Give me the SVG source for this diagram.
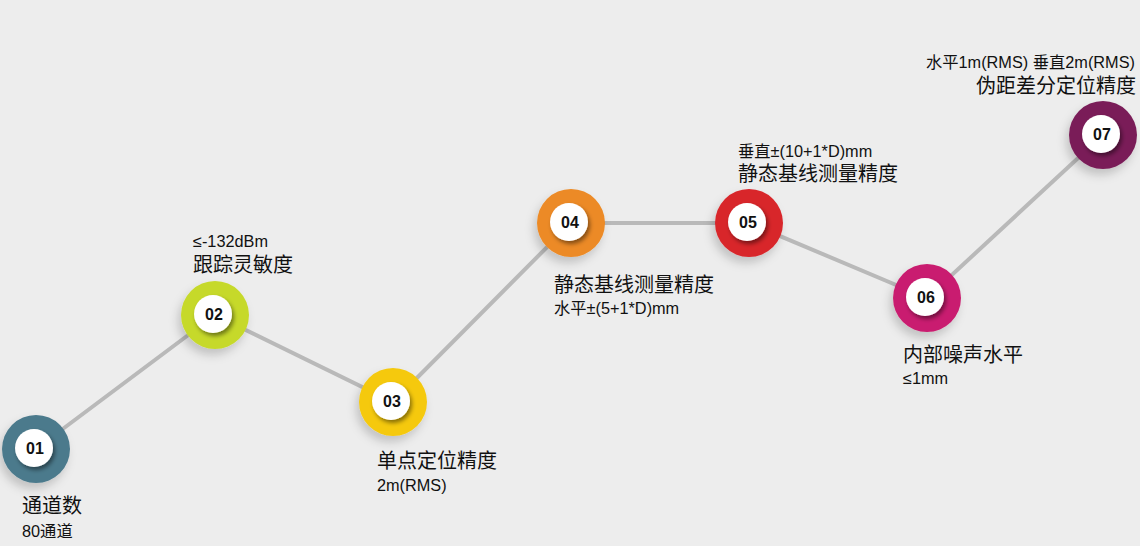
<svg xmlns="http://www.w3.org/2000/svg" width="1140" height="546" viewBox="0 0 1140 546">
<defs>
<style>
.t{font-family:"Liberation Sans","Noto Sans CJK SC",sans-serif;fill:#111}
.h{font-size:20px}
.s{font-size:16.3px}
.n{font-family:"Liberation Sans",sans-serif;font-weight:bold;font-size:16px;fill:#111;text-anchor:middle}
.w{fill:#fff;filter:url(#sh)}
</style>
<filter id="sh" x="-50%" y="-50%" width="200%" height="200%"><feDropShadow dx="2" dy="3" stdDeviation="2" flood-color="#000" flood-opacity="0.45"/></filter>
<filter id="gl" x="-50%" y="-50%" width="200%" height="200%"><feDropShadow dx="-3" dy="6" stdDeviation="5" flood-color="#000" flood-opacity="0.18"/></filter>
</defs>
<rect width="1140" height="546" fill="#ededed"/>
<g id="connectors" stroke="#b9b9b9" stroke-width="4" fill="none">
<polyline points="36,449 215,315 393,402 571,223 749,223 927,298 1103,135"/>
</g>
<g id="n01"><circle cx="36" cy="449" r="34" fill="#4b7a8c" filter="url(#gl)"/><circle class="w" cx="34" cy="448" r="19"/><text class="n" x="35" y="454">01</text></g>
<g id="n02"><circle cx="215" cy="315" r="34" fill="#c6d92c" filter="url(#gl)"/><circle class="w" cx="213" cy="314" r="19"/><text class="n" x="214" y="320">02</text></g>
<g id="n03"><circle cx="393" cy="402" r="34" fill="#f5c90d" filter="url(#gl)"/><circle class="w" cx="391" cy="401" r="19"/><text class="n" x="392" y="407">03</text></g>
<g id="n04"><circle cx="571" cy="223" r="34" fill="#ec8a26" filter="url(#gl)"/><circle class="w" cx="569" cy="222" r="19"/><text class="n" x="570" y="228">04</text></g>
<g id="n05"><circle cx="749" cy="223" r="34" fill="#d8262b" filter="url(#gl)"/><circle class="w" cx="747" cy="222" r="19"/><text class="n" x="748" y="228">05</text></g>
<g id="n06"><circle cx="927" cy="298" r="34" fill="#c91f6f" filter="url(#gl)"/><circle class="w" cx="925" cy="297" r="19"/><text class="n" x="926" y="303">06</text></g>
<g id="n07"><circle cx="1103" cy="135" r="34" fill="#7a1f59" filter="url(#gl)"/><circle class="w" cx="1101" cy="134" r="19"/><text class="n" x="1102" y="140">07</text></g>
<g id="labels">
<text class="t h" x="22" y="513">通道数</text><text class="t s" x="22" y="537">80通道</text>
<text class="t s" x="193" y="247">≤-132dBm</text><text class="t h" x="193" y="272">跟踪灵敏度</text>
<text class="t h" x="377" y="468">单点定位精度</text><text class="t s" x="377" y="491">2m(RMS)</text>
<text class="t h" x="554" y="292">静态基线测量精度</text><text class="t s" x="554" y="314">水平±(5+1*D)mm</text>
<text class="t s" x="738" y="157">垂直±(10+1*D)mm</text><text class="t h" x="738" y="181">静态基线测量精度</text>
<text class="t h" x="903" y="362">内部噪声水平</text><text class="t s" x="903" y="384">≤1mm</text>
<text class="t s" x="926" y="68">水平1m(RMS) 垂直2m(RMS)</text><text class="t h" x="976" y="93">伪距差分定位精度</text>
</g>
</svg>
